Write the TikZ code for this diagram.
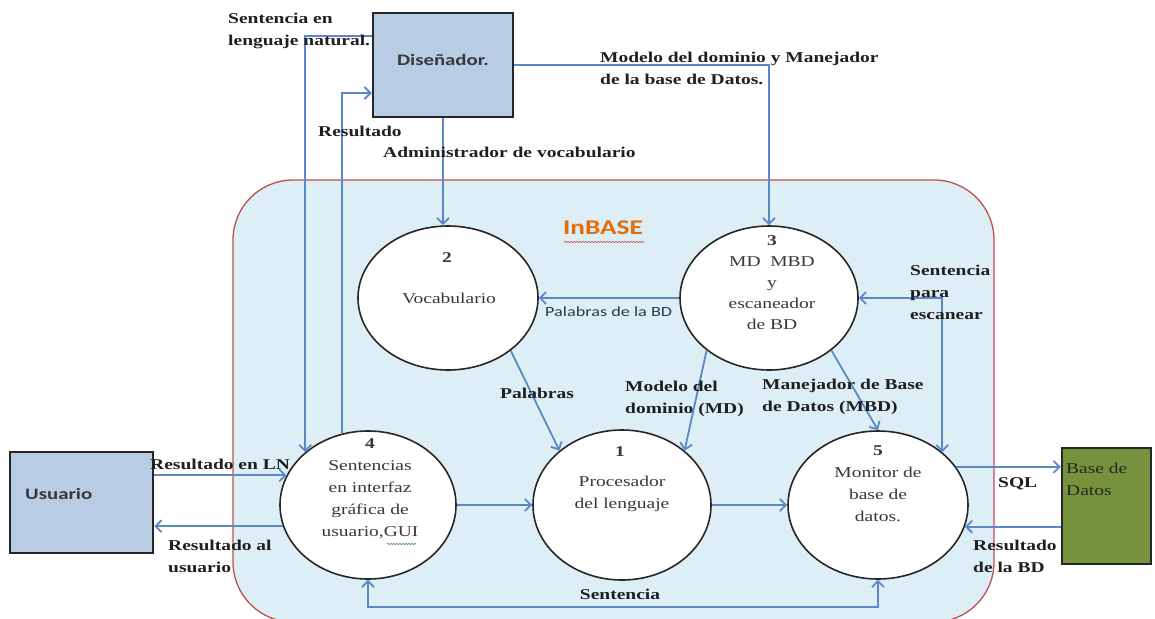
\documentclass[tikz,border=0pt]{standalone}
\usepackage{fontspec}
\newfontfamily\serifx{Liberation Serif}[FakeStretch=1.3]
\newfontfamily\sansx{Carlito}[FakeStretch=1.3]
\usetikzlibrary{arrows.meta,shapes.geometric,decorations.pathmorphing}
\definecolor{linec}{HTML}{5A89C6}
\definecolor{boxblue}{HTML}{B8CCE4}
\definecolor{olive}{HTML}{76923C}
\definecolor{inbfill}{HTML}{DDEEF6}
\definecolor{redc}{HTML}{C0504D}
\definecolor{orangec}{HTML}{E46C0A}
\definecolor{navyc}{HTML}{2B3A55}
\definecolor{greenu}{HTML}{3E8E3E}
\begin{document}
\begin{tikzpicture}[x=1pt,y=-1pt,
  flow/.style={draw=linec, line width=1.8pt, -{Straight Barb[length=6pt,width=12pt]}},
  flow2/.style={draw=linec, line width=1.8pt, {Straight Barb[length=6pt,width=12pt]}-{Straight Barb[length=6pt,width=12pt]}},
  proc/.style={ellipse, draw=black!85, line width=1.6pt, fill=white, inner sep=0},
  ext/.style={rectangle, draw=black!85, line width=2.5pt, inner sep=0},
  lbl/.style={font=\serifx\bfseries\fontsize{15}{22}\selectfont, text=black!88, align=left, inner sep=0, anchor=west},
  ptxt/.style={font=\serifx\fontsize{15}{22}\selectfont, text=black!78, align=center, inner sep=0},
  btxt/.style={font=\sansx\bfseries\fontsize{16}{19}\selectfont, text=black!78, inner sep=0},
]
\useasboundingbox (0,0) rectangle (1155,618);
\clip (0,0) rectangle (1155,618);
\fill[white] (0,0) rectangle (1155,618);

% InBASE system boundary
\draw[draw=redc, line width=1.3pt, fill=inbfill, rounded corners=60pt] (233,180) rectangle (994,622);

% external entities
\node[ext, fill=boxblue, minimum width=140pt, minimum height=104pt] (dis) at (443,65) {};
\node[ext, fill=boxblue, minimum width=143pt, minimum height=101pt] (usu) at (81.5,502.5) {};
\node[ext, fill=olive, minimum width=89pt, minimum height=116pt] (bd) at (1106.5,506) {};

% processes
\node[proc, minimum width=180pt, minimum height=144pt] (e2) at (448,298) {};
\node[proc, minimum width=178pt, minimum height=144pt] (e3) at (769,298) {};
\node[proc, minimum width=176pt, minimum height=148pt] (e4) at (368,505) {};
\node[proc, minimum width=178pt, minimum height=150pt] (e1) at (622,505) {};
\node[proc, minimum width=180pt, minimum height=148pt] (e5) at (878,505) {};

% connectors
\draw[flow] ([yshift=29pt]dis.west) -| (e4.north west);
\draw[flow] (e4.110) |- ([yshift=-28pt]dis.west);
\draw[flow] (dis.south) -- (dis.south |- e2.north);
\draw[flow] (dis.east) -| (e3.north);
\draw[flow] (usu.east |- e4.160) -- (e4.160);
\draw[flow] (e4.194) -- (e4.194 -| usu.east);
\draw[flow] (e4.east) -- (e1.west);
\draw[flow] (e1.east) -- (e5.west);
\draw[flow] (e2.320) -- (e1.139);
\draw[flow] (e3.west) -- (e2.east);
\draw[flow] (e3.220) -- (e1.41);
\draw[flow] (e3.320) -- (e5.north);
\draw[flow2] (e3.east) -| (e5.north east);
\draw[flow] (e5.26) -- (e5.26 -| bd.west);
\draw[flow] (e5.346 -| bd.west) -- (e5.346);
\coordinate (sb) at (620,607);
\draw[flow2] (e4.south) |- (sb) -| (e5.south);

% entity texts
\node[btxt] (tdis) at (443,60) {Diseñador.};
\node[btxt, anchor=west] (tusu) at (25,494) {Usuario};
\node[ptxt, align=left, anchor=west, text=black!85] (tbd) at (1066,479) {Base de\\Datos};

% process texts
\node[ptxt] (n2) at (447,258) {\bfseries 2};
\node[ptxt] (t2) at (449,298) {Vocabulario};
\node[ptxt, font=\serifx\fontsize{15}{21}\selectfont] (t3) at (772,283) {{\bfseries 3}\\MD\ \ MBD\\y\\escaneador\\de BD};
\node[ptxt] (t4) at (370,489) {{\bfseries 4}\\Sentencias\\en interfaz\\gráfica de\\usuario,GUI};
\node[ptxt] (n1) at (620,452) {\bfseries 1};
\node[ptxt] (t1) at (622,494) {Procesador\\del lenguaje};
\node[ptxt] (t5) at (878,484) {{\bfseries 5}\\Monitor de\\base de\\datos.};

% InBASE title
\node[font=\sansx\bfseries\fontsize{21}{24}\selectfont, text=orangec, inner sep=0] (inb) at (603,228) {InBASE};
\draw[redc, line width=0.6pt, decorate, decoration={snake, segment length=3pt, amplitude=0.7pt}] (564,242) -- (644,242);
\draw[greenu, line width=0.6pt, decorate, decoration={snake, segment length=3pt, amplitude=0.6pt}] (387,544) -- (416,544);

% flow labels
\node[lbl] (l1) at (228,31) {Sentencia en\\lenguaje natural.};
\node[lbl] (l2) at (318,131) {Resultado};
\node[lbl] (l3) at (383,152) {Administrador de vocabulario};
\node[lbl] (l4) at (600,68) {Modelo del dominio y Manejador\\de la base de Datos.};
\node[font=\sansx\fontsize{14}{17}\selectfont, text=navyc, anchor=west, inner sep=0] (l5) at (545,312) {Palabras de la BD};
\node[lbl] (l6) at (500,393) {Palabras};
\node[lbl] (l7) at (625,399) {Modelo del\\dominio (MD)};
\node[lbl] (l8) at (762,397) {Manejador de Base\\de Datos (MBD)};
\node[lbl] (l9) at (910,292) {Sentencia\\para\\escanear};
\node[lbl] (l10) at (150,464) {Resultado en LN};
\node[lbl] (l11) at (168,556) {Resultado al\\usuario};
\node[lbl] (l12) at (998,484) {SQL};
\node[lbl] (l13) at (973,556) {Resultado\\de la BD};
\node[lbl, anchor=center] (l14) at (620,594) {Sentencia};
\end{tikzpicture}
\end{document}
